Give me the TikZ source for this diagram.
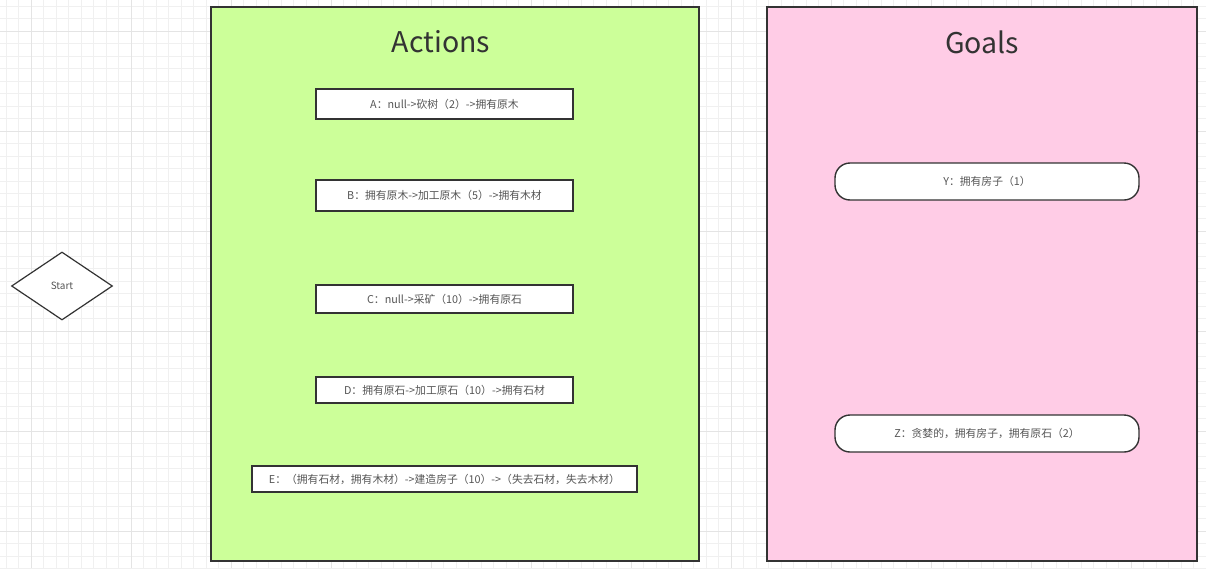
\documentclass[tikz,border=0pt]{standalone}
\usepackage{fontspec}
\setmainfont{Noto Sans CJK SC}
\usetikzlibrary{shapes.geometric}
\definecolor{actfill}{HTML}{CCFF99}
\definecolor{goalfill}{HTML}{FFCCE6}
\definecolor{edge}{HTML}{333333}
\definecolor{txt}{HTML}{555555}
\definecolor{gridminor}{HTML}{F0F0F0}
\definecolor{gridmajor}{HTML}{E4E4E4}
\tikzset{
  panel/.style={draw=edge, line width=1.3pt},
  actbox/.style={draw=edge, fill=white, line width=1.4pt, inner sep=0pt, text=txt, font=\fontsize{10.8}{12}\selectfont},
  goalbox/.style={draw=edge, fill=white, line width=1.4pt, rounded corners=15pt, inner sep=0pt, text=txt, font=\fontsize{10.8}{12}\selectfont},
  titletext/.style={text=edge, font=\fontsize{28.5}{32}\selectfont},
}
\begin{document}
\begin{tikzpicture}[x=1pt,y=-1pt]
\useasboundingbox (0,0) rectangle (1206,568);
\fill[white] (0,0) rectangle (1206,568);
% grid
\foreach \i in {0,...,97} {
  \draw[gridminor, line width=0.6pt] ({6+12.5*\i},0) -- ({6+12.5*\i},568);
}
\foreach \j in {0,...,46} {
  \draw[gridminor, line width=0.6pt] (0,{6+12.5*\j}) -- (1206,{6+12.5*\j});
}
\foreach \i in {0,...,12} {
  \draw[gridmajor, line width=0.6pt] ({31+100*\i},0) -- ({31+100*\i},568);
}
\foreach \j in {0,...,5} {
  \draw[gridmajor, line width=0.6pt] (0,{31+100*\j}) -- (1206,{31+100*\j});
}
% panels
\node[panel, fill=actfill, minimum width=488pt, minimum height=554pt, inner sep=0pt] (actions) at (455,284) {};
\node[panel, fill=goalfill, minimum width=430pt, minimum height=554pt, inner sep=0pt] (goals) at (982,284) {};
\node[titletext] (acttitle) at (441,42) {Actions};
\node[titletext] (goaltitle) at (982,42) {Goals};
% start
\node[draw=edge, line width=1.2pt, fill=white, diamond, minimum width=101pt, minimum height=68pt, inner sep=0pt, aspect=1.5, text=txt, font=\fontsize{10}{12}\selectfont] (start) at (62,286) {Start};
% actions
\node[actbox, minimum width=257pt, minimum height=30pt] (a) at (444.5,104) {A：null->砍树（2）->拥有原木};
\node[actbox, minimum width=257pt, minimum height=31pt] (b) at (444.5,195.5) {B：拥有原木->加工原木（5）->拥有木材};
\node[actbox, minimum width=257pt, minimum height=28pt] (c) at (444.5,299) {C：null->采矿（10）->拥有原石};
\node[actbox, minimum width=257pt, minimum height=26pt] (d) at (444.5,390) {D：拥有原石->加工原石（10）->拥有石材};
\node[actbox, minimum width=385pt, minimum height=26pt] (e) at (444.5,479) {E：（拥有石材，拥有木材）->建造房子（10）->（失去石材，失去木材）};
% goals
\node[goalbox, minimum width=304pt, minimum height=37pt] (y) at (987,181.5) {Y：拥有房子（1）};
\node[goalbox, minimum width=304pt, minimum height=37pt] (z) at (987,433.5) {Z：贪婪的，拥有房子，拥有原石（2）};
\end{tikzpicture}
\end{document}
